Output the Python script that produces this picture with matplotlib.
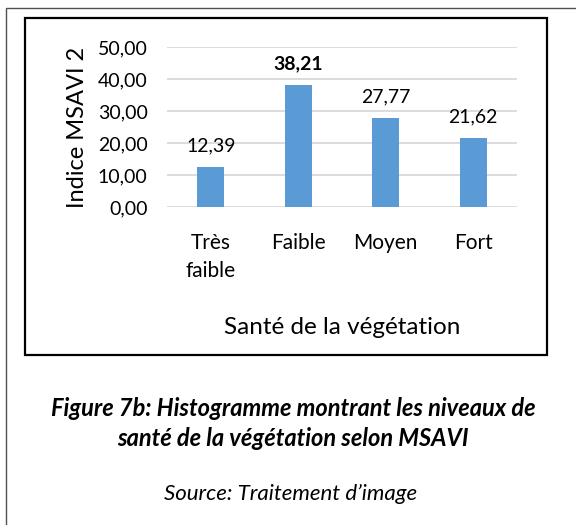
import matplotlib
matplotlib.use("Agg")
import matplotlib.pyplot as plt
from matplotlib.patches import Rectangle

categories = ["Très\nfaible", "Faible", "Moyen", "Fort"]
values = [12.39, 38.21, 27.77, 21.62]
value_labels = ["12,39", "38,21", "27,77", "21,62"]
bold_label = [False, True, False, False]
yticks = [0, 10, 20, 30, 40, 50]
ytick_labels = ["0,00", "10,00", "20,00", "30,00", "40,00", "50,00"]

plt.rcParams['font.family'] = ['Lato', 'DejaVu Sans']

fig = plt.figure(figsize=(5.76, 5.25), dpi=100)

# page frame (left/top edges visible) and chart frame
fig.patches.append(Rectangle((6 / 576, -0.05), 1.1, 1 - 8 / 525 + 0.05,
                             transform=fig.transFigure, fill=False,
                             edgecolor='#505050', linewidth=1.0))
fig.patches.append(Rectangle((25 / 576, 1 - 355 / 525), (547 - 25) / 576, (355 - 18) / 525,
                             transform=fig.transFigure, fill=False,
                             edgecolor='black', linewidth=1.6))

ax = fig.add_axes([167 / 576, 1 - 207 / 525, 350 / 576, 160 / 525])
x = range(len(categories))
bars = ax.bar(x, values, width=0.31, color='#5B9BD5', zorder=3)
ax.set_xlim(-0.5, len(categories) - 0.5)
ax.set_ylim(0, 50)
ax.set_yticks(yticks)
ax.set_yticklabels(ytick_labels, fontsize=14)
ax.set_xticks(list(x))
ax.set_xticklabels(categories, fontsize=15, linespacing=1.45, va='top')
ax.tick_params(length=0, pad=14)
ax.tick_params(axis='x', pad=19)
ax.grid(axis='y', color='#D9D9D9', linewidth=1.3, zorder=0)
for s in ax.spines.values():
    s.set_visible(False)

txts = ax.bar_label(bars, labels=value_labels, padding=9, fontsize=14)
for t, b in zip(txts, bold_label):
    if b:
        t.set_fontweight('bold')

ax.set_ylabel("Indice MSAVI 2", fontsize=17, labelpad=7)
ax.set_xlabel("Santé de la végétation", fontsize=17.5, labelpad=26)

fig.text(0.509, 1 - 408 / 525, "Figure 7b: Histogramme montrant les niveaux de",
         ha='center', va='center', fontsize=17, fontweight='bold', style='italic')
fig.text(0.509, 1 - 438 / 525, "santé de la végétation selon MSAVI",
         ha='center', va='center', fontsize=17, fontweight='bold', style='italic')
fig.text(0.505, 1 - 494 / 525, "Source: Traitement d’image",
         ha='center', va='center', fontsize=16, style='italic')

fig.savefig("out.png", dpi=100)
